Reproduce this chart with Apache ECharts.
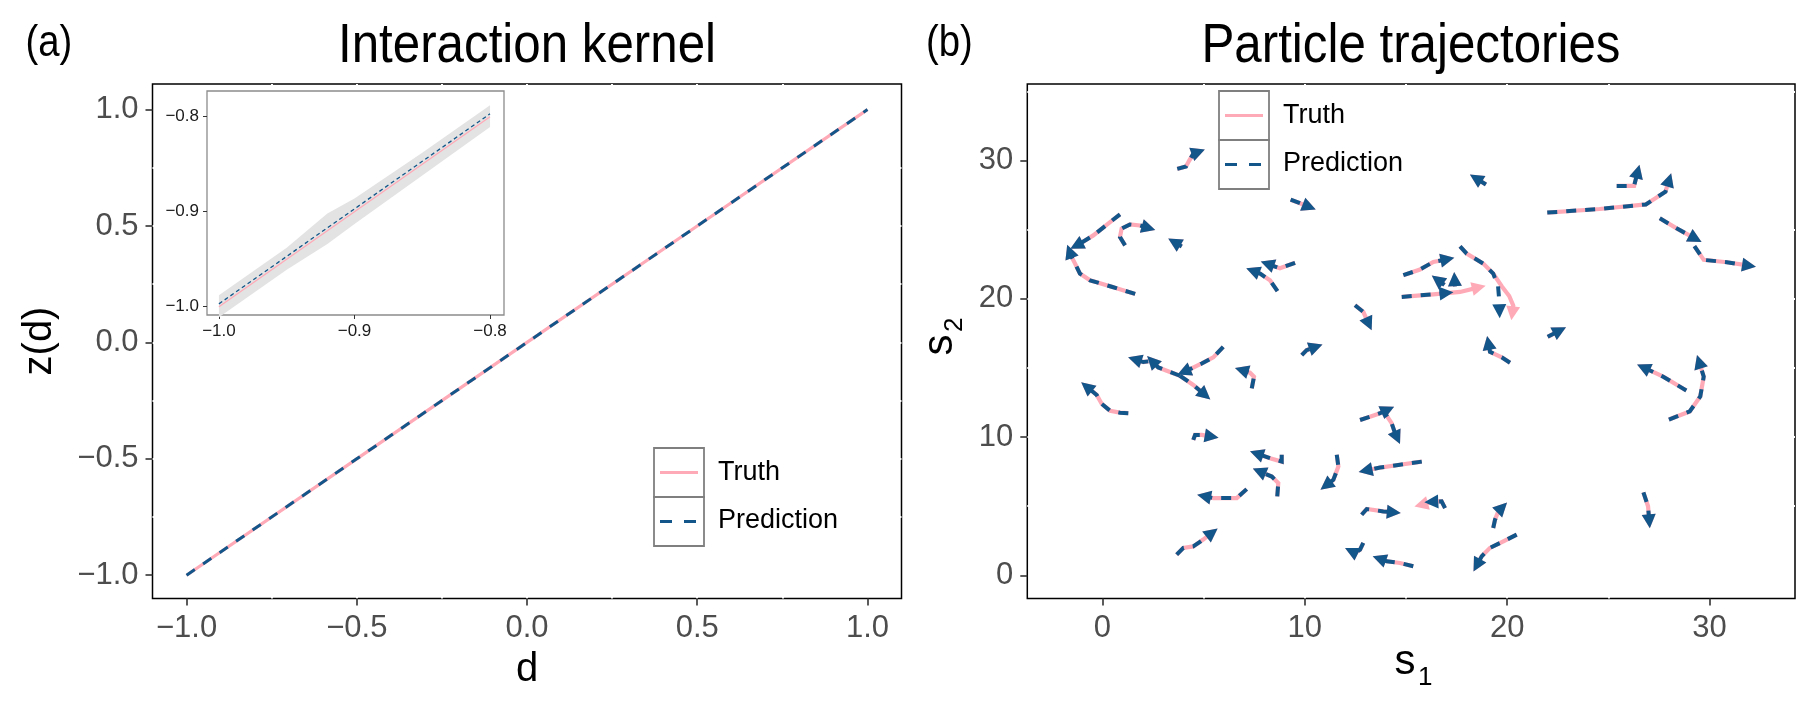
<!DOCTYPE html>
<html lang="en">
<head>
<meta charset="UTF-8">
<title>Interaction kernel / Particle trajectories</title>
<script src="https://cdn.jsdelivr.net/npm/echarts@6/dist/echarts.min.js"></script>
<style>
html, body { margin: 0; padding: 0; background: #fff; }
#main { width: 1819px; height: 709px; }
</style>
</head>
<body>
<div id="main"></div>
<script>
// ---- panel (a): interaction kernel ----
var kernelD = [-1, -0.5, 0, 0.5, 1];
var kernelTruth = [-1, -0.5, 0, 0.5, 1];
var kernelPred = [-1, -0.5, 0, 0.5, 1];
var kernelTicks = [-1, -0.5, 0, 0.5, 1];

// inset (zoom on d in [-1, -0.8])
var insetD = [-1.0, -0.95, -0.92, -0.9, -0.85, -0.8];
var insetTruth = [-1.0, -0.95, -0.92, -0.9, -0.85, -0.8];
var insetPred = [-0.997, -0.947, -0.917, -0.897, -0.847, -0.797];
var insetLow = [-1.011, -0.961, -0.934, -0.913, -0.862, -0.811];
var insetHigh = [-0.988, -0.938, -0.902, -0.886, -0.838, -0.788];
var insetTicks = [-1.0, -0.9, -0.8];

// ---- panel (b): particle trajectories, [s1, s2] points, last point = arrow head ----
var trajTicks = [0, 10, 20, 30];
var truthPaths = [
    [[3.70, 29.39], [4.13, 29.56], [4.29, 29.99], [4.49, 30.48], [4.74, 30.62]],
    [[0.87, 26.10], [0.38, 25.54], [-0.45, 24.58], [-1.11, 23.98], [-1.28, 23.85]],
    [[1.62, 20.35], [0.50, 20.85], [-0.61, 21.33], [-1.11, 21.82], [-1.35, 22.54], [-1.52, 23.02], [-1.62, 23.42]],
    [[1.12, 23.86], [0.87, 24.46], [0.95, 25.07], [1.36, 25.37], [1.86, 25.30], [2.28, 25.12]],
    [[3.92, 23.78], [3.55, 24.10]],
    [[9.30, 27.16], [9.76, 26.91], [10.22, 26.64]],
    [[18.95, 28.26], [18.45, 28.72]],
    [[8.65, 20.55], [8.28, 21.33], [7.79, 21.82], [7.43, 22.02]],
    [[9.52, 22.60], [8.77, 22.20], [8.15, 22.52]],
    [[14.87, 21.70], [15.69, 22.11], [16.35, 22.66], [17.05, 22.86]],
    [[16.90, 21.00], [16.55, 21.38]],
    [[17.42, 20.90], [17.40, 21.42]],
    [[17.67, 23.79], [18.00, 23.26], [18.82, 22.54], [19.31, 21.82], [19.73, 20.90], [20.10, 20.20], [20.30, 19.50], [20.25, 18.95]],
    [[14.79, 20.13], [16.35, 20.32], [17.67, 20.49], [18.60, 20.82]],
    [[12.48, 19.53], [12.89, 19.05], [13.16, 18.18]],
    [[9.85, 15.92], [10.09, 16.28], [10.55, 16.52]],
    [[5.97, 16.52], [5.48, 15.76], [4.91, 15.32], [4.41, 14.96], [4.03, 14.72]],
    [[3.83, 14.43], [3.18, 14.79], [2.76, 15.03], [2.45, 15.50]],
    [[2.27, 15.47], [2.02, 15.42], [1.60, 15.62]],
    [[3.83, 14.43], [4.49, 13.76], [5.07, 13.04]],
    [[7.38, 13.52], [7.49, 14.36], [7.29, 14.65], [6.88, 14.84]],
    [[20.14, 15.37], [19.73, 15.76], [19.15, 16.16], [19.07, 16.80]],
    [[1.28, 11.72], [0.87, 11.76], [0.38, 11.90], [-0.03, 12.39], [-0.28, 13.04], [-0.78, 13.64]],
    [[4.49, 9.79], [4.58, 10.15], [4.91, 10.15], [5.40, 10.03]],
    [[12.73, 11.23], [13.22, 11.47], [13.72, 11.72], [14.10, 11.98]],
    [[13.80, 12.08], [14.29, 11.00], [14.46, 10.27], [14.56, 9.95]],
    [[8.86, 8.71], [8.86, 8.22], [8.28, 8.47], [7.62, 8.80]],
    [[8.64, 5.70], [8.69, 6.67], [8.37, 7.14], [7.75, 7.52]],
    [[7.13, 6.23], [6.64, 5.58], [5.48, 5.58], [5.02, 5.72]],
    [[11.58, 8.71], [11.66, 7.86], [11.41, 6.90], [11.05, 6.50]],
    [[15.78, 8.22], [14.70, 7.99], [13.72, 7.79], [13.00, 7.57]],
    [[16.93, 4.86], [16.76, 5.34], [16.35, 5.34], [15.75, 5.10]],
    [[12.81, 4.38], [13.06, 4.79], [13.88, 4.62], [14.40, 4.55]],
    [[19.31, 3.42], [19.40, 4.02], [19.56, 4.62], [19.75, 4.90]],
    [[20.47, 2.94], [19.81, 2.45], [19.15, 1.98], [18.74, 1.37], [18.50, 0.72]],
    [[15.36, 0.65], [14.70, 0.89], [14.05, 1.01], [13.68, 1.20]],
    [[12.89, 2.34], [12.73, 1.85], [12.48, 1.62], [12.30, 1.75]],
    [[3.67, 1.49], [4.00, 1.98], [4.49, 2.09], [4.98, 2.58], [5.42, 3.08]],
    [[21.98, 26.23], [24.56, 26.49], [26.85, 26.82], [27.82, 27.74], [28.00, 28.60]],
    [[25.41, 28.16], [26.27, 28.16], [26.45, 29.20]],
    [[27.54, 25.82], [28.39, 25.07], [29.30, 24.35]],
    [[29.25, 23.81], [29.71, 22.81], [30.85, 22.64], [31.95, 22.39]],
    [[22.00, 17.25], [22.60, 17.70]],
    [[28.85, 13.36], [27.71, 14.36], [26.73, 15.03]],
    [[27.99, 11.26], [29.02, 11.85], [29.54, 12.94], [29.71, 14.36], [29.48, 15.45]],
    [[26.73, 6.00], [26.96, 4.99], [27.02, 3.90]]
];
// where the prediction leaves the truth
var predAlt = {
    12: [[17.67, 23.79], [18.00, 23.26], [18.82, 22.54], [19.31, 21.82], [19.55, 20.90], [19.60, 20.00], [19.62, 19.10]],
    13: [[14.79, 20.13], [16.35, 20.32], [17.00, 20.42]],
    31: [[16.93, 4.86], [16.76, 5.34], [16.25, 5.30]]
};
var predPaths = truthPaths.map(function (p, i) { return predAlt[i] || p; });

var PINK = '#FFAAB7';
var BLUE = '#135689';
var FONT = 'Liberation Sans, Arial, sans-serif';

function zip(a, b) { return a.map(function (v, i) { return [v, b[i]]; }); }
function minusFmt(digits) {
    return function (v) {
        var s = Math.abs(v).toFixed(digits);
        return v < 0 ? '\u2212' + s : s;
    };
}

// big panels: ggplot-like, white grid lines only show as notches in the black border
function panelAxis(grid, min, max, step, ticks, fmt) {
    return {
        type: 'value', gridIndex: grid, min: min, max: max,
        minInterval: step, maxInterval: step,
        axisLine: { show: false, onZero: false },
        axisTick: { show: true, length: 7, customValues: ticks, lineStyle: { color: '#333', width: 1.6 } },
        axisLabel: { customValues: ticks, formatter: fmt, fontSize: 31, color: '#4d4d4d', margin: 14, fontFamily: FONT },
        splitLine: { show: true, showMinLine: false, showMaxLine: false, lineStyle: { color: '#fff', width: 2 } },
        minorTick: { show: false, splitNumber: 2 },
        minorSplitLine: { show: true, lineStyle: { color: '#fff', width: 2 } }
    };
}
function insetAxis(min, max) {
    return {
        type: 'value', gridIndex: 1, min: min, max: max, z: 6,
        minInterval: 0.1, maxInterval: 0.1,
        axisLine: { show: false, onZero: false },
        axisTick: { show: true, length: 4, customValues: insetTicks, lineStyle: { color: '#333', width: 1 } },
        axisLabel: { customValues: insetTicks, formatter: minusFmt(1), fontSize: 17, color: '#1a1a1a', margin: 8, fontFamily: FONT },
        splitLine: { show: false }
    };
}

function legendBox(x, y) {
    return [
        { type: 'rect', z: 100, shape: { x: x, y: y, width: 50, height: 49 }, style: { fill: '#fff', stroke: '#7f7f7f', lineWidth: 1.8 } },
        { type: 'rect', z: 100, shape: { x: x, y: y + 49, width: 50, height: 49 }, style: { fill: '#fff', stroke: '#7f7f7f', lineWidth: 1.8 } },
        { type: 'line', z: 101, shape: { x1: x + 6, y1: y + 24.5, x2: x + 44, y2: y + 24.5 }, style: { stroke: PINK, lineWidth: 3 } },
        { type: 'line', z: 101, shape: { x1: x + 6, y1: y + 73.5, x2: x + 44, y2: y + 73.5 }, style: { stroke: BLUE, lineWidth: 3, lineDash: [12, 12] } },
        { type: 'text', z: 101, x: x + 64, y: y + 25, style: { text: 'Truth', font: '27px ' + FONT, fill: '#000', textAlign: 'left', textVerticalAlign: 'middle' } },
        { type: 'text', z: 101, x: x + 64, y: y + 73, style: { text: 'Prediction', font: '27px ' + FONT, fill: '#000', textAlign: 'left', textVerticalAlign: 'middle' } }
    ];
}
function label(text, x, y, size, sx, align) {
    return { type: 'text', z: 100, x: x, y: y, scaleX: sx,
        style: { text: text, font: size + 'px ' + FONT, fill: '#000', textAlign: align, textVerticalAlign: 'middle' } };
}

var myChart = echarts.init(document.getElementById('main'), null, { renderer: 'canvas' });

var option = {
    animation: false,
    backgroundColor: '#fff',
    grid: [
        { left: 152.5, top: 84, width: 749, height: 514.5, show: true, backgroundColor: '#fff', borderColor: '#000', borderWidth: 1.5 },
        { left: 207, top: 91, width: 297, height: 224, show: true, z: 5, backgroundColor: '#fff', borderColor: '#8c8c8c', borderWidth: 1.3 },
        { left: 1027.3, top: 84, width: 767.7, height: 514.5, show: true, backgroundColor: '#fff', borderColor: '#000', borderWidth: 1.5 }
    ],
    xAxis: [
        panelAxis(0, -1.1, 1.1, 0.5, kernelTicks, minusFmt(1)),
        insetAxis(-1.0088, -0.7897),
        panelAxis(2, -3.71, 34.22, 10, trajTicks, function (v) { return String(v); })
    ],
    yAxis: [
        panelAxis(0, -1.1, 1.11, 0.5, kernelTicks, minusFmt(1)),
        insetAxis(-1.0087, -0.773),
        panelAxis(2, -1.68, 35.53, 10, trajTicks, function (v) { return String(v); })
    ],
    series: [
        { type: 'line', xAxisIndex: 0, yAxisIndex: 0, data: zip(kernelD, kernelTruth), symbol: 'none', silent: true, z: 2,
          lineStyle: { color: PINK, width: 3.2 } },
        { type: 'line', xAxisIndex: 0, yAxisIndex: 0, data: zip(kernelD, kernelPred), symbol: 'none', silent: true, z: 3,
          lineStyle: { color: BLUE, width: 3, type: [10, 10] } },
        // inset band
        { type: 'custom', xAxisIndex: 1, yAxisIndex: 1, z: 7, silent: true,
          data: insetD.map(function (d, i) { return [d, insetLow[i], insetHigh[i]]; }),
          encode: { x: 0, y: [1, 2] },
          renderItem: function (params, api) {
              if (params.dataIndex !== 0) return;
              var pts = [];
              for (var i = 0; i < insetD.length; i++) pts.push(api.coord([insetD[i], insetHigh[i]]));
              for (var j = insetD.length - 1; j >= 0; j--) pts.push(api.coord([insetD[j], insetLow[j]]));
              return { type: 'polygon', shape: { points: pts }, style: { fill: '#e3e3e3' } };
          } },
        { type: 'line', xAxisIndex: 1, yAxisIndex: 1, data: zip(insetD, insetTruth), symbol: 'none', silent: true, z: 8,
          lineStyle: { color: PINK, width: 1.3 } },
        { type: 'line', xAxisIndex: 1, yAxisIndex: 1, data: zip(insetD, insetPred), symbol: 'none', silent: true, z: 9,
          lineStyle: { color: BLUE, width: 1.3, type: [4, 3] } },
        // trajectories
        { type: 'lines', coordinateSystem: 'cartesian2d', xAxisIndex: 2, yAxisIndex: 2, polyline: true, silent: true, z: 2,
          data: truthPaths.map(function (p) { return { coords: p }; }),
          lineStyle: { color: PINK, width: 4.2, opacity: 1 } },
        { type: 'lines', coordinateSystem: 'cartesian2d', xAxisIndex: 2, yAxisIndex: 2, silent: true, z: 3,
          data: truthPaths.map(function (p) { return { coords: p.slice(-2) }; }),
          symbol: ['none', 'triangle'], symbolSize: 14,
          lineStyle: { color: PINK, width: 0, opacity: 1 } },
        { type: 'lines', coordinateSystem: 'cartesian2d', xAxisIndex: 2, yAxisIndex: 2, polyline: true, silent: true, z: 4,
          data: predPaths.map(function (p) { return { coords: p }; }),
          lineStyle: { color: BLUE, width: 4, opacity: 1, type: [10, 9] } },
        { type: 'lines', coordinateSystem: 'cartesian2d', xAxisIndex: 2, yAxisIndex: 2, silent: true, z: 5,
          data: predPaths.map(function (p) { return { coords: p.slice(-2) }; }),
          symbol: ['none', 'triangle'], symbolSize: 14,
          lineStyle: { color: BLUE, width: 0, opacity: 1 } }
    ],
    graphic: [].concat(
        legendBox(654, 448),
        legendBox(1219, 91),
        [
            label('(a)', 25.5, 44, 44, 0.87, 'left'),
            label('Interaction kernel', 527, 47, 56, 0.88, 'center'),
            label('(b)', 926, 44, 44, 0.87, 'left'),
            label('Particle trajectories', 1411, 47, 56, 0.88, 'center'),
            label('d', 527, 670, 40, 1, 'center'),
            { type: 'text', z: 100, x: 40, y: 341, rotation: Math.PI / 2,
              style: { text: 'z(d)', font: '40px ' + FONT, fill: '#000', textAlign: 'center', textVerticalAlign: 'middle' } },
            label('s', 1405, 662, 42, 1, 'center'),
            label('1', 1418, 678, 26, 1, 'left'),
            { type: 'group', x: 944, y: 340, rotation: Math.PI / 2, z: 100, children: [
                { type: 'text', x: -5, y: -4, style: { text: 's', font: '42px ' + FONT, fill: '#000', textAlign: 'center', textVerticalAlign: 'middle' } },
                { type: 'text', x: 8, y: 11, style: { text: '2', font: '26px ' + FONT, fill: '#000', textAlign: 'left', textVerticalAlign: 'middle' } }
            ] }
        ]
    )
};

myChart.setOption(option);
</script>
</body>
</html>
